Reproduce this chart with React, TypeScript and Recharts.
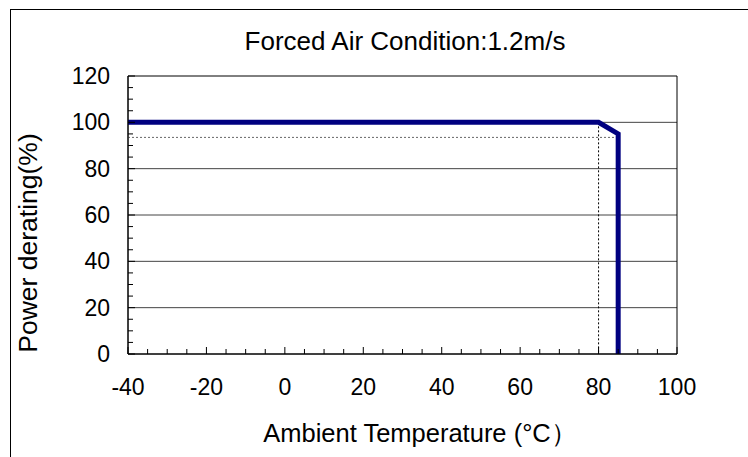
import React from "react";
import { CartesianGrid, Line, LineChart, ReferenceArea, ReferenceLine, XAxis, YAxis } from "recharts";

// derating curve
const tempC = [-40, 80, 85, 85];
const powerPct = [100, 100, 95, 0];

const xTicks = [-40, -35, -30, -25, -20, -15, -10, -5, 0, 5, 10, 15, 20, 25, 30, 35, 40, 45, 50, 55, 60, 65, 70, 75, 80, 85, 90, 95, 100];
const yTicks = [0, 5, 10, 15, 20, 25, 30, 35, 40, 45, 50, 55, 60, 65, 70, 75, 80, 85, 90, 95, 100, 105, 110, 115, 120];
const gridValues = [20, 40, 60, 80, 100];

// dotted helper lines
const kneeTemp = 80;
const kneeTop = 100;
const dottedLevel = 93.5;
const dottedEnd = 85;

const title = "Forced Air Condition:1.2m/s";
const xLabel = "Ambient Temperature (°C）";
const yLabel = "Power derating(%)";

const data = tempC.map((t, i) => ({ temp: t, power: powerPct[i] }));

const FONT = "Arial, 'Liberation Sans', sans-serif";

function XTick({ x, y, payload }: any) {
  const major = payload.value % 20 === 0;
  return (
    <g>
      <line x1={x} x2={x} y1={y} y2={y - (major ? 7 : 5)} stroke="#000" />
      {major && (
        <text x={x} y={y + 41} textAnchor="middle" fontSize={23} fontFamily={FONT} fill="#000">
          {payload.value}
        </text>
      )}
    </g>
  );
}

function YTick({ x, y, payload }: any) {
  const major = payload.value % 20 === 0;
  return (
    <g>
      <line x1={x} x2={x + (major ? 7 : 5)} y1={y} y2={y} stroke="#000" />
      {major && (
        <text x={x - 18} y={y + 8} textAnchor="end" fontSize={23} fontFamily={FONT} fill="#000">
          {payload.value}
        </text>
      )}
    </g>
  );
}

export default function App() {
  return (
    <div style={{ position: "absolute", left: 0, top: 0, width: 748, height: 457, overflow: "hidden", background: "#fff" }}>
      <div style={{ position: "absolute", left: 10, top: 9, width: 800, height: 500, border: "1px solid #000" }} />
      <div style={{ position: "absolute", left: 0, top: 0 }}>
        <LineChart width={748} height={457} data={data} margin={{ top: 76, right: 71, left: 0, bottom: 0 }}>
          <CartesianGrid vertical={false} horizontalValues={gridValues} stroke="#444" />
          <XAxis
            dataKey="temp"
            type="number"
            domain={[-40, 100]}
            ticks={xTicks}
            interval={0}
            height={103}
            tickSize={0}
            tickMargin={0}
            tick={<XTick />}
            axisLine={{ stroke: "#000" }}
          />
          <YAxis
            type="number"
            domain={[0, 120]}
            ticks={yTicks}
            interval={0}
            width={128}
            tickSize={0}
            tickMargin={0}
            tick={<YTick />}
            axisLine={{ stroke: "#000" }}
          />
          <ReferenceArea x1={-40} x2={100} y1={0} y2={120} stroke="#000" fill="none" fillOpacity={0} />
          <ReferenceLine
            segment={[{ x: -40, y: dottedLevel }, { x: dottedEnd, y: dottedLevel }]}
            stroke="#666"
            strokeDasharray="2 2"
          />
          <ReferenceLine
            segment={[{ x: kneeTemp, y: kneeTop }, { x: kneeTemp, y: 0 }]}
            stroke="#000"
            strokeDasharray="2 2"
          />
          <Line
            dataKey="power"
            type="linear"
            stroke="#000080"
            strokeWidth={5}
            dot={false}
            isAnimationActive={false}
          />
        </LineChart>
      </div>
      <svg width={748} height={457} style={{ position: "absolute", left: 0, top: 0, pointerEvents: "none" }}>
        <text x={405} y={50} textAnchor="middle" fontSize={26} fontFamily={FONT} fill="#000">
          {title}
        </text>
        <text x={420} y={442} textAnchor="middle" fontSize={25.5} fontFamily={FONT} fill="#000">
          {xLabel}
        </text>
        <text
          x={0}
          y={0}
          transform="translate(37 243) rotate(-90)"
          textAnchor="middle"
          fontSize={26.5}
          fontFamily={FONT}
          fill="#000"
        >
          {yLabel}
        </text>
      </svg>
    </div>
  );
}
